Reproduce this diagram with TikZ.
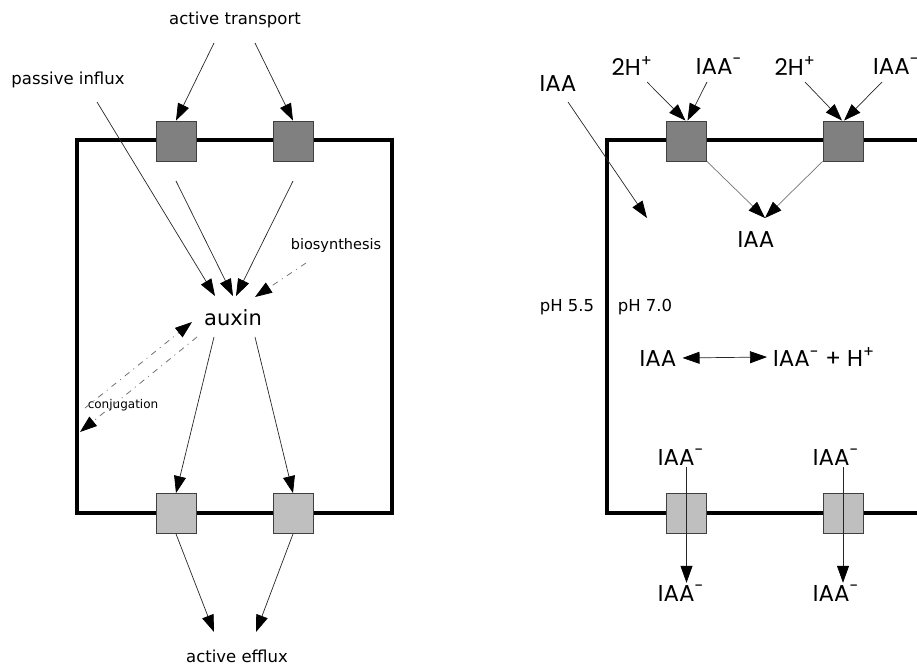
\documentclass[tikz,border=0pt]{standalone}
\usepackage{fontspec}
\setmainfont{DejaVu Sans}
\newfontfamily\geofont{Poppins}
\usetikzlibrary{arrows.meta}

\begin{document}
\begin{tikzpicture}[x=1pt, y=-1pt,
    tip/.tip={Triangle[length=17pt,width=12pt,black]},
    arr/.style={-tip, black!85, line width=0.7pt},
    dd/.style={-tip, black!55, line width=0.8pt,
        dash pattern=on 6pt off 5pt on 1pt off 5pt},
    membrane/.style={line width=4pt},
    carrier/.style={draw=black!75, line width=0.8pt, minimum size=40pt, inner sep=0pt},
    influxcarrier/.style={carrier, fill=black!50},
    effluxcarrier/.style={carrier, fill=black!25},
    lbl/.style={inner sep=2pt, font=\fontsize{16.5}{18}\selectfont},
    chem/.style={inner sep=2pt, font=\geofont\fontsize{23}{25}\selectfont}]
    \useasboundingbox (0,0) rectangle (917,666);
    \clip (0,0) rectangle (917,666);

    % left cell
    \draw[membrane] (77,140) rectangle (392,513);
    \node[influxcarrier] (tl) at (176,141) {};
    \node[influxcarrier] (tr) at (293,141) {};
    \node[effluxcarrier] (bl) at (176,513.5) {};
    \node[effluxcarrier] (br) at (293,513.5) {};

    \node[lbl] (transport) at (235,20) {active transport};
    \node[lbl] (influx) at (68,80) {passive influx};
    \node[lbl, font=\fontsize{14.5}{16}\selectfont] (biosyn) at (336,245) {biosynthesis};
    \node[lbl, font=\fontsize{21}{23}\selectfont] (auxin) at (233,318) {auxin};
    \node[lbl, font=\fontsize{12}{14}\selectfont] (conj) at (123,405) {conjugation};
    \node[lbl] (efflux) at (237,656) {active efflux};

    \coordinate (at1) at (214,43);  \coordinate (at2) at (255,43);
    \coordinate (pi1) at (97,102);  \coordinate (ax0) at (215,296);
    \coordinate (tl1) at (176,181); \coordinate (ax1) at (233,296);
    \coordinate (tr1) at (293,181); \coordinate (ax2) at (236,296);
    \coordinate (bs1) at (306,263); \coordinate (ax3) at (255,297);
    \coordinate (cj1) at (85,408);  \coordinate (ax4) at (192,322);
    \coordinate (ax5) at (197,337); \coordinate (cj2) at (80,432);
    \coordinate (ax6) at (214,337); \coordinate (ax7) at (255,337);
    \coordinate (ef1) at (214,632); \coordinate (ef2) at (256,632);

    \draw[arr] (at1) -- (tl.north);
    \draw[arr] (at2) -- (tr.north);
    \draw[arr] (pi1) -- (ax0);
    \draw[arr] (tl1) -- (ax1);
    \draw[arr] (tr1) -- (ax2);
    \draw[dd] (bs1) -- (ax3);
    \draw[dd] (cj1) -- (ax4);
    \draw[dd] (ax5) -- (cj2);
    \draw[arr] (ax6) -- (bl.north);
    \draw[arr] (ax7) -- (br.north);
    \draw[arr] (bl.south) -- (ef1);
    \draw[arr] (br.south) -- (ef2);

    % right cell
    \draw[membrane] (960,140) -- (607,140) -- (607,513) -- (960,513);
    \node[influxcarrier] (rtl) at (686.5,141) {};
    \node[influxcarrier] (rtr) at (843,141) {};
    \node[effluxcarrier] (rbl) at (686.5,513.5) {};
    \node[effluxcarrier] (rbr) at (843,513.5) {};

    \node[chem] (h1) at (632,66) {2H\textsuperscript{+}};
    \node[chem] (i1) at (719,66) {IAA\textsuperscript{-}};
    \node[chem] (h2) at (795,66) {2H\textsuperscript{+}};
    \node[chem, anchor=west] (i2) at (871,66) {IAA\textsuperscript{-}};
    \node[chem] (iaaout) at (558,83) {IAA};
    \node[chem] (iaain) at (756,239) {IAA};
    \node[lbl] (phout) at (567,307) {pH 5.5};
    \node[lbl] (phin) at (645,307) {pH 7.0};
    \node[chem] (eqL) at (658,358) {IAA};
    \node[chem, anchor=west] (eqR) at (771,357) {IAA\textsuperscript{-} + H\textsuperscript{+}};
    \node[chem] (b1) at (681,457) {IAA\textsuperscript{-}};
    \node[chem] (b2) at (836,457) {IAA\textsuperscript{-}};
    \node[chem] (o1) at (681,593) {IAA\textsuperscript{-}};
    \node[chem] (o2) at (836,593) {IAA\textsuperscript{-}};

    \coordinate (hs1) at (647,82);  \coordinate (is1) at (707,82);
    \coordinate (hs2) at (805,82);  \coordinate (is2) at (882,82);
    \coordinate (io1) at (568,102); \coordinate (ii1) at (647,218);
    \coordinate (ia1) at (765,218);

    \draw[arr] (hs1) -- ([xshift=-1pt]rtl.north);
    \draw[arr] (is1) -- ([xshift=1pt]rtl.north);
    \draw[arr] (hs2) -- ([xshift=-1pt]rtr.north);
    \draw[arr] (is2) -- ([xshift=1pt]rtr.north);
    \draw[arr, black!55] (rtl.south east) -- (ia1);
    \draw[arr, black!55] (rtr.south west) -- (ia1);
    \draw[arr] (io1) -- (ii1);
    \draw[arr, tip-tip, shorten <=4pt, shorten >=4pt] (eqL.east) -- (eqR.west);
    \draw[arr] (rbl.center |- b1.south) -- (rbl.center |- o1.north);
    \draw[arr] (rbr.center |- b2.south) -- (rbr.center |- o2.north);
\end{tikzpicture}
\end{document}
